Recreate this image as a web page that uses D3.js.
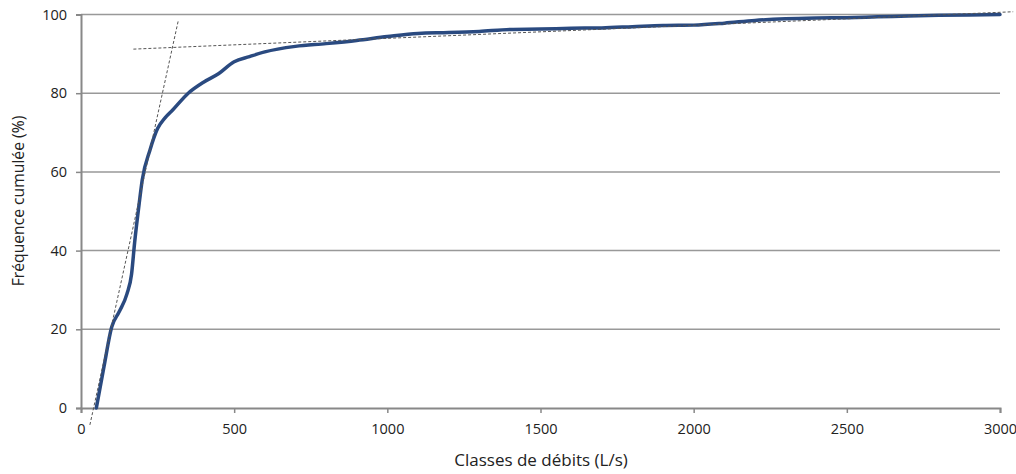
<!DOCTYPE html>
<html>
<head>
<meta charset="utf-8">
<script src="https://cdn.jsdelivr.net/npm/d3@7"></script>
<style>
  body { margin: 0; background: #fff; }
  svg { display: block; }
  text { font-family: "Open Sans", "Liberation Sans", sans-serif; fill: #222; }
</style>
</head>
<body>
<svg id="chart" width="1016" height="474"></svg>
<script>
const debits = [50,75,100,125,150,165,175,190,200,225,250,275,300,350,400,450,500,550,600,700,800,900,1000,1100,1200,1300,1400,1500,1600,1700,1800,1900,2000,2100,2200,2300,2400,2500,2600,2700,2800,2900,3000];
const frequences = [0,10.5,20.5,24.5,29,34,42,52,58,65.5,71,73.8,75.8,80,82.8,85,88,89.3,90.5,91.9,92.6,93.4,94.4,95.2,95.4,95.7,96.2,96.3,96.5,96.6,96.9,97.2,97.3,97.8,98.5,98.9,99.1,99.2,99.4,99.6,99.8,99.9,100];
const xTicks = [0,500,1000,1500,2000,2500,3000];
const yTicks = [0,20,40,60,80,100];
const tangentSteep = [[29,-4.3],[318,98.6]];
const tangentFlat = [[171,91.2],[3043,100.7]];
const xTitle = "Classes de débits (L/s)";
const yTitle = "Fréquence cumulée (%)";

const svg = d3.select("#chart");
const m = {left: 81, right: 1000, top: 14.5, bottom: 408};
const x = d3.scaleLinear().domain([0,3000]).range([m.left, m.right]);
const y = d3.scaleLinear().domain([0,100]).range([m.bottom, m.top]);

// gridlines
svg.append("g").selectAll("line").data(yTicks.filter(d => d > 0)).join("line")
  .attr("x1", m.left).attr("x2", m.right)
  .attr("y1", d => y(d)).attr("y2", d => y(d))
  .attr("stroke", "#999").attr("stroke-width", 1.5);

// x axis
const xAxis = svg.append("g").attr("transform", `translate(0,${m.bottom})`)
  .call(d3.axisBottom(x).tickValues(xTicks).tickSize(5).tickPadding(11).tickFormat(d3.format("d")));
xAxis.select(".domain").attr("stroke", "#888").attr("stroke-width", 2);
xAxis.selectAll(".tick line").attr("stroke", "#888").attr("stroke-width", 1.5);
xAxis.selectAll("text").style("font-size", "14.5px").attr("fill", "#222");

// y axis
const yAxis = svg.append("g").attr("transform", `translate(${m.left},0)`)
  .call(d3.axisLeft(y).tickValues(yTicks).tickSize(5).tickPadding(9).tickFormat(d3.format("d")));
yAxis.select(".domain").attr("stroke", "#888").attr("stroke-width", 2);
yAxis.selectAll(".tick line").attr("stroke", "#888").attr("stroke-width", 1.5);
yAxis.selectAll("text").style("font-size", "14.5px").attr("fill", "#222");

// curve
const line = d3.line().x((d,i) => x(debits[i])).y(d => y(d)).curve(d3.curveMonotoneX);
svg.append("path").datum(frequences)
  .attr("d", line)
  .attr("fill", "none")
  .attr("stroke", "#2a4a80")
  .attr("stroke-width", 3.5)
  .attr("stroke-linejoin", "round")
  .attr("stroke-linecap", "round");

// tangent lines
const tl = d3.line().x(d => x(d[0])).y(d => y(d[1]));
[tangentSteep, tangentFlat].forEach(t => {
  svg.append("path").attr("d", tl(t))
    .attr("fill", "none").attr("stroke", "#555")
    .attr("stroke-width", 1).attr("stroke-dasharray", "3,2");
});

// titles
svg.append("text").attr("x", 541).attr("y", 466).attr("text-anchor", "middle")
  .style("font-size", "17px").text(xTitle);
svg.append("text").attr("transform", "translate(24,201) rotate(-90)")
  .attr("text-anchor", "middle").style("font-size", "15.7px").text(yTitle);
</script>
</body>
</html>
